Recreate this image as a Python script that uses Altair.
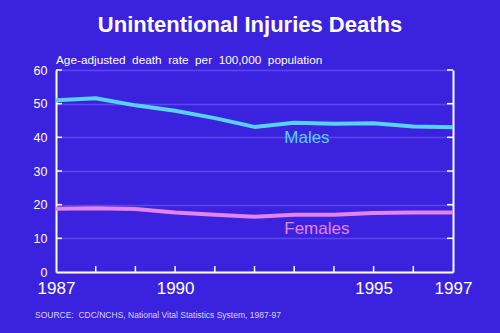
import altair as alt
import pandas as pd

years = list(range(1987, 1998))
males = [51.0, 51.6, 49.5, 47.9, 45.7, 43.1, 44.3, 44.0, 44.2, 43.2, 43.0]
females = [18.8, 18.9, 18.7, 17.7, 17.0, 16.4, 17.0, 17.0, 17.5, 17.7, 17.7]
x_labels = [1987, 1990, 1995, 1997]
y_ticks = [0, 10, 20, 30, 40, 50, 60]

BG = "#3b22df"
CYAN = "#58d2f2"
PINK = "#e385e8"
W, H = 397, 202

df = pd.DataFrame({
    "year": years * 2,
    "rate": males + females,
    "sex": ["Males"] * len(years) + ["Females"] * len(years),
})

xs = alt.Scale(domain=[1987, 1997], nice=False, zero=False)
ys = alt.Scale(domain=[0, 60], nice=False)
cs = alt.Scale(domain=["Males", "Females"], range=[CYAN, PINK])

lines = alt.Chart(df).mark_line(strokeWidth=4, strokeJoin="round").encode(
    x=alt.X("year:Q", scale=xs, axis=alt.Axis(
        values=x_labels, format="d", title=None, labelColor="white",
        labelFont="Liberation Sans", labelFontSize=17, labelPadding=8,
        ticks=False, domainColor="white", domainWidth=2, grid=False,
        labelFlush=False, labelOverlap=False)),
    y=alt.Y("rate:Q", scale=ys, axis=alt.Axis(
        values=y_ticks, title=None, labelColor="white",
        labelFont="Liberation Sans", labelFontSize=12.5, labelPadding=9,
        ticks=False, domainColor="white", domainWidth=2,
        grid=True, gridColor="#5a48ea", gridWidth=1.5)),
    color=alt.Color("sex:N", scale=cs, legend=None),
)

right_axis = alt.Chart(pd.DataFrame({"v": y_ticks})).mark_rule(opacity=0).encode(
    y=alt.Y("v:Q", scale=ys, axis=alt.Axis(orient="right", labels=False, ticks=False,
                                            domainColor="white", domainWidth=2, grid=False, title=None)),
)

year_ticks = alt.Chart(pd.DataFrame({"year": years[1:-1]})).mark_rule(color="white", strokeWidth=1.5).encode(
    x=alt.X("year:Q", scale=xs),
    y=alt.value(H),
    y2=alt.value(H - 6),
)

left_ticks = alt.Chart(pd.DataFrame({"v": y_ticks[1:]})).mark_rule(color="white", strokeWidth=1.5).encode(
    y=alt.Y("v:Q", scale=ys, axis=None),
    x=alt.value(0),
    x2=alt.value(6),
)
right_ticks = alt.Chart(pd.DataFrame({"v": y_ticks[1:]})).mark_rule(color="white", strokeWidth=1.5).encode(
    y=alt.Y("v:Q", scale=ys, axis=None),
    x=alt.value(W),
    x2=alt.value(W - 6),
)

labels_df = pd.DataFrame({
    "year": [1992.75, 1992.75],
    "rate": [39.8, 12.8],
    "sex": ["Males", "Females"],
})
series_labels = alt.Chart(labels_df).mark_text(
    align="left", baseline="middle", font="Liberation Sans", fontSize=17
).encode(
    x=alt.X("year:Q", scale=xs),
    y=alt.Y("rate:Q", scale=ys, axis=None),
    text="sex:N",
    color=alt.Color("sex:N", scale=cs, legend=None),
)

NB = "\u00a0\u00a0"
title = alt.Chart(pd.DataFrame({"t": ["Unintentional Injuries Deaths"]})).mark_text(
    font="Liberation Sans", fontSize=22, fontWeight="bold", color="white", align="center", baseline="middle"
).encode(text="t:N", x=alt.value(250 - 56), y=alt.value(25 - 70))

subtitle = alt.Chart(pd.DataFrame({"t": [NB.join(["Age-adjusted", "death", "rate", "per", "100,000", "population"])]})).mark_text(
    font="Liberation Sans", fontSize=11.8, color="white", align="left", baseline="middle"
).encode(text="t:N", x=alt.value(0), y=alt.value(60 - 70))

source = alt.Chart(pd.DataFrame({"t": ["SOURCE:\u00a0\u00a0CDC/NCHS, National Vital Statistics System, 1987-97"]})).mark_text(
    font="Liberation Sans", fontSize=8.5, color="#d8d4ff", align="left", baseline="middle"
).encode(text="t:N", x=alt.value(35 - 56), y=alt.value(315 - 70))

chart = alt.layer(
    lines, right_axis, year_ticks, left_ticks, right_ticks, series_labels, title, subtitle, source
).resolve_axis(y="independent").properties(
    width=W, height=H, background=BG,
    autosize=alt.AutoSizeParams(type="none"),
    padding={"left": 56, "top": 70, "right": 47, "bottom": 61},
).configure_view(stroke=None)

chart.save("out.html", embed_options={"renderer": "svg", "actions": False})
